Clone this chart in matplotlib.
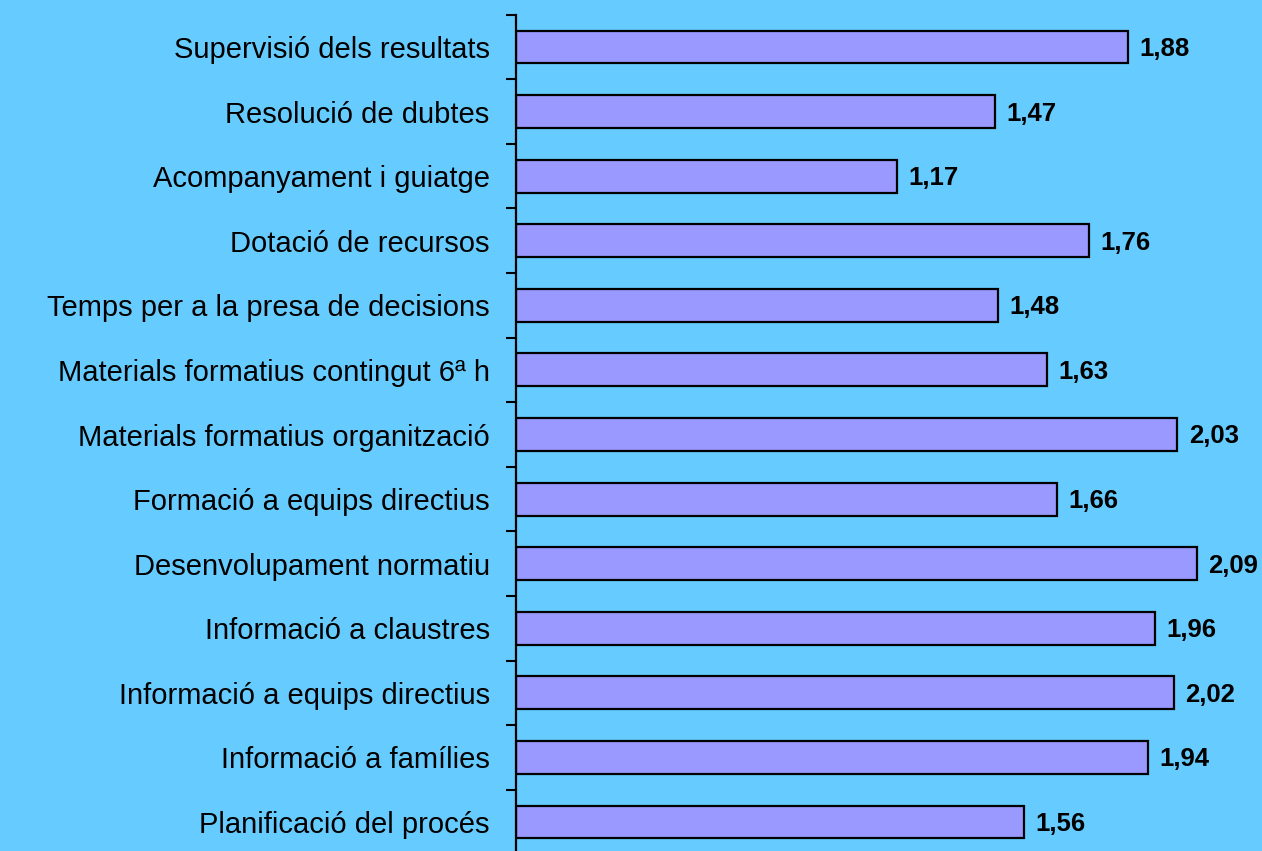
import matplotlib.pyplot as plt
import numpy as np

categories = [
    "Supervisió dels resultats",
    "Resolució de dubtes",
    "Acompanyament i guiatge",
    "Dotació de recursos",
    "Temps per a la presa de decisions",
    "Materials formatius contingut 6ª h",
    "Materials formatius organització",
    "Formació a equips directius",
    "Desenvolupament normatiu",
    "Informació a claustres",
    "Informació a equips directius",
    "Informació a famílies",
    "Planificació del procés",
]
values = [1.88, 1.47, 1.17, 1.76, 1.48, 1.63, 2.03, 1.66, 2.09, 1.96, 2.02, 1.94, 1.56]

BG = "#66CCFF"
BAR = "#9999FF"

plt.rcParams["font.family"] = ["Liberation Sans", "DejaVu Sans"]

fig = plt.figure(figsize=(12.62, 8.51), dpi=100, facecolor=BG)
ax = fig.add_axes([0.4089, -0.0039, 0.5911, 0.9866])
ax.set_facecolor(BG)

y = np.arange(len(categories))
ax.barh(y, values, height=0.51, color=BAR, edgecolor="black", linewidth=1.6, zorder=2)

for yi, v in zip(y, values):
    ax.text(v + 0.035, yi + 0.03, f"{v:.2f}".replace(".", ","), va="center", ha="left",
            fontsize=18.5, fontweight="bold", color="black")

ax.set_xlim(0, 2.29)
ax.set_ylim(len(categories) - 0.5, -0.5)

ax.set_yticks(y)
ax.set_yticklabels(categories, fontsize=21)
ax.tick_params(axis="y", which="major", length=0, pad=19)
ax.set_yticks(np.arange(-0.5, len(categories), 1.0), minor=True)
ax.tick_params(axis="y", which="minor", length=7, width=1.5, direction="out")
ax.set_xticks([])

for side in ["top", "right", "bottom"]:
    ax.spines[side].set_visible(False)
ax.spines["left"].set_linewidth(1.6)

fig.savefig("out.png", dpi=100, facecolor=BG)
